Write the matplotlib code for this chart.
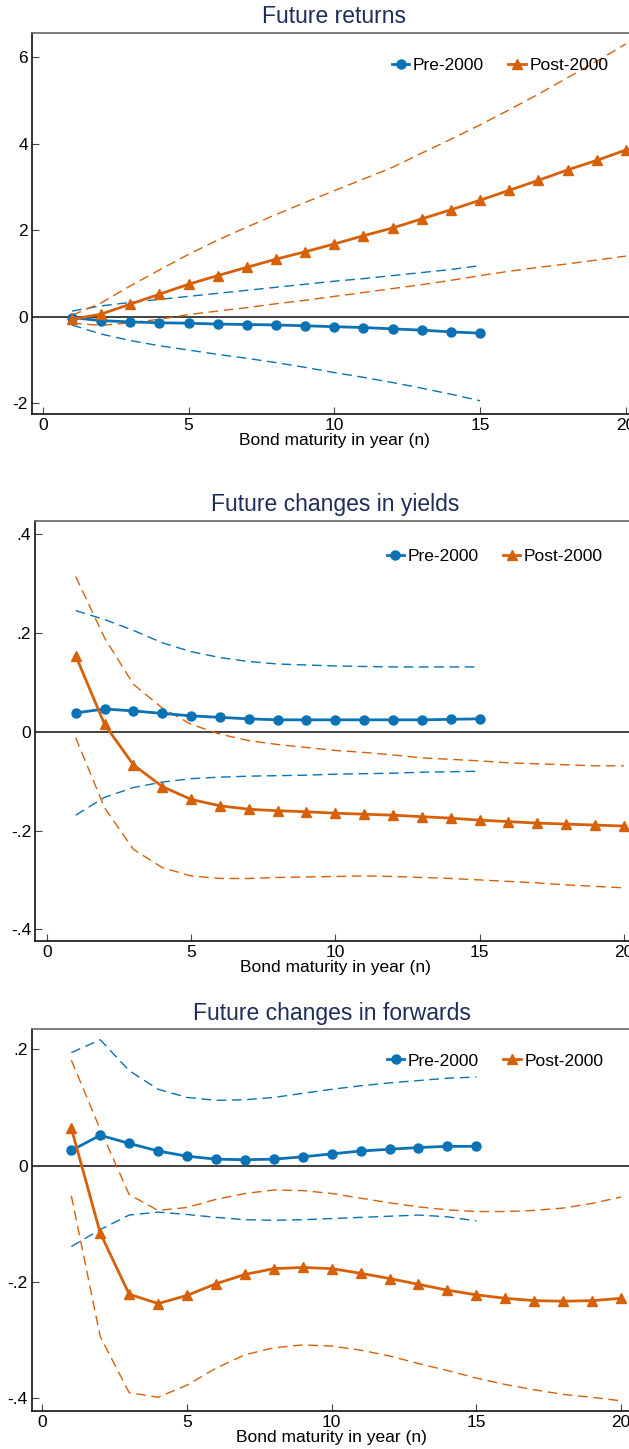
import matplotlib
matplotlib.use("Agg")
import matplotlib.pyplot as plt
from matplotlib.ticker import FixedLocator

plt.rcParams['font.family'] = ['Liberation Sans', 'DejaVu Sans']

BLUE = '#0a72b5'
ORANGE = '#d6610a'
NAVY = '#1e2d59'

mat_pre = list(range(1, 16))
mat_post = list(range(1, 21))

# future returns
ret_pre = [-0.02, -0.09, -0.12, -0.14, -0.15, -0.17, -0.18, -0.19, -0.21, -0.23,
           -0.25, -0.28, -0.31, -0.35, -0.38]
ret_pre_hi = [0.13, 0.25, 0.33, 0.40, 0.47, 0.54, 0.61, 0.68, 0.75, 0.82,
              0.88, 0.95, 1.02, 1.09, 1.18]
ret_pre_lo = [-0.19, -0.40, -0.55, -0.67, -0.77, -0.87, -0.96, -1.06, -1.17, -1.29,
              -1.40, -1.52, -1.65, -1.79, -1.94]
ret_post = [-0.06, 0.06, 0.29, 0.52, 0.75, 0.95, 1.14, 1.33, 1.50, 1.68,
            1.87, 2.05, 2.26, 2.47, 2.69, 2.92, 3.15, 3.39, 3.61, 3.85]
ret_post_hi = [0.03, 0.32, 0.71, 1.08, 1.44, 1.77, 2.07, 2.36, 2.64, 2.91,
               3.18, 3.45, 3.78, 4.10, 4.43, 4.78, 5.14, 5.52, 5.90, 6.30]
ret_post_lo = [-0.15, -0.20, -0.14, -0.06, 0.05, 0.13, 0.21, 0.30, 0.38, 0.47,
               0.56, 0.65, 0.74, 0.84, 0.95, 1.05, 1.14, 1.22, 1.31, 1.40]

# future changes in yields
yld_pre = [0.038, 0.046, 0.042, 0.037, 0.032, 0.029, 0.026, 0.024, 0.024, 0.024,
           0.024, 0.024, 0.024, 0.025, 0.026]
yld_pre_hi = [0.245, 0.227, 0.205, 0.180, 0.162, 0.150, 0.142, 0.137, 0.135, 0.133,
              0.132, 0.131, 0.131, 0.131, 0.131]
yld_pre_lo = [-0.169, -0.133, -0.113, -0.102, -0.095, -0.092, -0.090, -0.089, -0.088, -0.086,
              -0.085, -0.084, -0.082, -0.081, -0.080]
yld_post = [0.154, 0.015, -0.067, -0.111, -0.137, -0.150, -0.157, -0.160, -0.162, -0.165,
            -0.167, -0.169, -0.172, -0.175, -0.179, -0.182, -0.185, -0.187, -0.189, -0.191]
yld_post_hi = [0.314, 0.190, 0.096, 0.048, 0.015, -0.005, -0.018, -0.026, -0.032, -0.038,
               -0.042, -0.047, -0.053, -0.056, -0.059, -0.063, -0.065, -0.067, -0.069, -0.069]
yld_post_lo = [-0.012, -0.154, -0.238, -0.275, -0.292, -0.297, -0.297, -0.295, -0.294, -0.293,
               -0.292, -0.293, -0.295, -0.297, -0.300, -0.303, -0.306, -0.310, -0.313, -0.316]

# future changes in forwards
fwd_pre = [0.026, 0.052, 0.038, 0.025, 0.016, 0.011, 0.010, 0.011, 0.015, 0.020,
           0.025, 0.028, 0.031, 0.033, 0.033]
fwd_pre_hi = [0.194, 0.216, 0.163, 0.131, 0.117, 0.112, 0.113, 0.117, 0.124, 0.131,
              0.137, 0.142, 0.146, 0.150, 0.152]
fwd_pre_lo = [-0.139, -0.110, -0.085, -0.080, -0.084, -0.089, -0.093, -0.094, -0.093, -0.091,
              -0.089, -0.087, -0.085, -0.088, -0.095]
fwd_post = [0.064, -0.116, -0.221, -0.237, -0.223, -0.203, -0.187, -0.177, -0.175, -0.177,
            -0.185, -0.194, -0.204, -0.214, -0.222, -0.228, -0.232, -0.233, -0.232, -0.228]
fwd_post_hi = [0.181, 0.062, -0.050, -0.077, -0.072, -0.058, -0.048, -0.042, -0.043, -0.048,
               -0.056, -0.064, -0.071, -0.076, -0.079, -0.079, -0.077, -0.073, -0.065, -0.054]
fwd_post_lo = [-0.052, -0.294, -0.390, -0.398, -0.377, -0.348, -0.325, -0.313, -0.308, -0.310,
               -0.317, -0.327, -0.340, -0.352, -0.365, -0.376, -0.385, -0.393, -0.398, -0.404]

W, H = 629, 1449
fig = plt.figure(figsize=(W / 100, H / 100), dpi=100)


def px_axes(left, top, width, height):
    return fig.add_axes([left / W, 1 - (top + height) / H, width / W, height / H])


def panel(ax, title, pre, pre_hi, pre_lo, post, post_hi, post_lo,
          xlim, ylim, yticks, ylabels, leg_anchor):
    ax.axhline(0, color='#333333', lw=1.3, zorder=1)
    dash = dict(lw=1.0, dashes=(7, 4))
    ax.plot(mat_pre, pre_hi, color=BLUE, **dash)
    ax.plot(mat_pre, pre_lo, color=BLUE, **dash)
    ax.plot(mat_post, post_hi, color=ORANGE, **dash)
    ax.plot(mat_post, post_lo, color=ORANGE, **dash)
    ax.plot(mat_pre, pre, color=BLUE, lw=2.0, marker='o', ms=6.5,
            label='Pre-2000', zorder=4)
    ax.plot(mat_post, post, color=ORANGE, lw=2.0, marker='^', ms=7.5,
            label='Post-2000', zorder=4)
    ax.set_xlim(*xlim)
    ax.set_ylim(*ylim)
    ax.xaxis.set_major_locator(FixedLocator([0, 5, 10, 15, 20]))
    ax.set_yticks(yticks)
    ax.set_yticklabels(ylabels)
    ax.tick_params(direction='in', length=5, width=0.8, color='#444444',
                   labelsize=12.5, pad=3)
    for side in ['left', 'bottom']:
        ax.spines[side].set_color('#111111')
        ax.spines[side].set_linewidth(1.2)
    for side in ['top', 'right']:
        ax.spines[side].set_color('#666666')
        ax.spines[side].set_linewidth(1.2)
    ax.set_xlabel('Bond maturity in year (n)', fontsize=12.5, labelpad=0)
    ax.set_title(title, fontsize=16.5, color=NAVY, pad=7)
    ax.legend(loc='center right', bbox_to_anchor=leg_anchor, ncol=2, frameon=False,
              fontsize=12.5, handlelength=1.0, handletextpad=0.2, columnspacing=1.4,
              borderpad=0, borderaxespad=0)


ax1 = px_axes(32, 32.7, 604.6, 381)
panel(ax1, 'Future returns', ret_pre, ret_pre_hi, ret_pre_lo,
      ret_post, ret_post_hi, ret_post_lo,
      (-0.37, 20.37), (-2.24, 6.56), [-2, 0, 2, 4, 6],
      ['-2', '0', '2', '4', '6'], (0.953, 0.913))

ax2 = px_axes(35.3, 520.7, 600, 420)
panel(ax2, 'Future changes in yields', yld_pre, yld_pre_hi, yld_pre_lo,
      yld_post, yld_post_hi, yld_post_lo,
      (-0.40, 20.40), (-0.423, 0.427), [-0.4, -0.2, 0, 0.2, 0.4],
      ['-.4', '-.2', '0', '.2', '.4'], (0.946, 0.914))

ax3 = px_axes(32, 1029.3, 599.4, 381.4)
panel(ax3, 'Future changes in forwards', fwd_pre, fwd_pre_hi, fwd_pre_lo,
      fwd_post, fwd_post_hi, fwd_post_lo,
      (-0.36, 20.36), (-0.421, 0.234), [-0.4, -0.2, 0, 0.2],
      ['-.4', '-.2', '0', '.2'], (0.953, 0.917))

fig.savefig('out.png', dpi=100)
